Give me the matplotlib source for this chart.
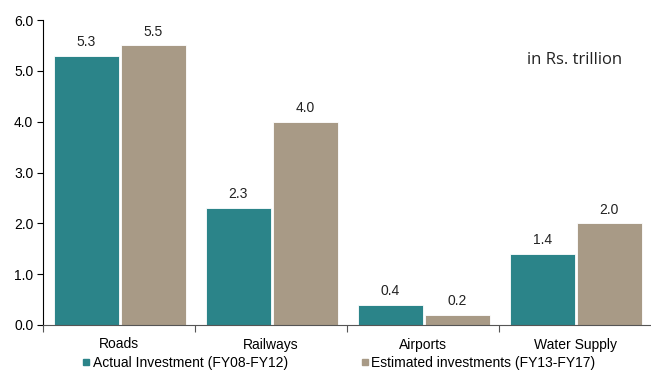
import numpy as np
import matplotlib.pyplot as plt
from matplotlib.lines import Line2D

categories = ["Roads", "Railways", "Airports", "Water Supply"]
actual = [5.3, 2.3, 0.4, 1.4]
estimated = [5.5, 4.0, 0.2, 2.0]
series_names = ["Actual Investment (FY08-FY12)", "Estimated investments (FY13-FY17)"]

teal = "#2B8489"
taupe = "#A89A86"

plt.rcParams['font.family'] = ['Liberation Sans', 'DejaVu Sans']

fig = plt.figure(figsize=(6.51, 3.70), dpi=100)
ax = fig.add_axes([43 / 651, 1 - 325 / 370, 1 - 43 / 651, (325 - 20) / 370])

x = np.arange(len(categories))
w = 0.43
ax.bar(x - 0.215, actual, w, color=teal, edgecolor="white", linewidth=0.6)
ax.bar(x + 0.225, estimated, w, color=taupe, edgecolor="white", linewidth=0.6)

# value labels above bars
for xi, v in zip(x - 0.215, actual):
    ax.text(xi, v + 0.13, f"{v:.1f}", ha="center", va="bottom", fontsize=10, color="#222222")
for xi, v in zip(x + 0.225, estimated):
    ax.text(xi, v + 0.13, f"{v:.1f}", ha="center", va="bottom", fontsize=10, color="#222222")

ax.set_xlim(-0.5, len(categories) - 0.5)
ax.set_ylim(0, 6)
ax.set_yticks(np.arange(0, 6.01, 1.0))
ax.set_yticklabels([f"{t:.1f}" for t in np.arange(0, 6.01, 1.0)], fontsize=10)

# category separators on the x axis, labels centered
ax.set_xticks(np.arange(-0.5, len(categories) - 0.5, 1.0))
ax.set_xticklabels([])
ax.set_xticks(x, minor=True)
ax.set_xticklabels(categories, minor=True, fontsize=10)
ax.tick_params(axis="x", which="major", length=5, direction="out", color="#555555")
ax.tick_params(axis="x", which="minor", length=0, pad=9)
ax.tick_params(axis="y", length=4, direction="out", pad=3)

for s in ["top", "right"]:
    ax.spines[s].set_visible(False)
ax.spines["left"].set_color("black")
ax.spines["bottom"].set_color("#555555")

ax.text(0.952, 0.869, "in Rs. trillion", transform=ax.transAxes, ha="right", va="center",
        fontsize=12, family=["Open Sans", "DejaVu Sans"], color="#222222")

handles = [Line2D([], [], marker="s", linestyle="", color=teal, markersize=5),
           Line2D([], [], marker="s", linestyle="", color=taupe, markersize=5)]
fig.legend(handles, series_names, loc="center", bbox_to_anchor=(339 / 651, 1 - 363 / 370),
           ncol=2, frameon=False, fontsize=10, handlelength=0.5, handletextpad=0.2,
           columnspacing=5.3, borderaxespad=0, borderpad=0)

fig.savefig("out.png", dpi=100)
